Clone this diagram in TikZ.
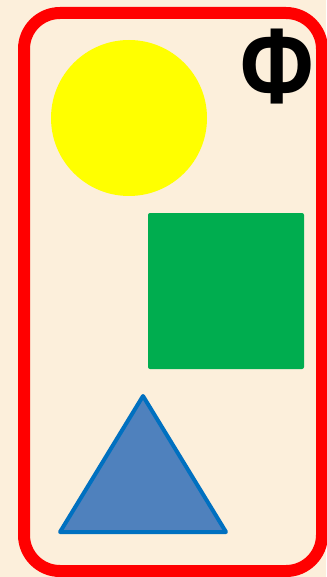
\documentclass[tikz,border=0pt]{standalone}
\usepackage{fontspec}
\setmainfont{Liberation Sans}
\usepackage{xcolor}
\usepackage{tikz}
\usetikzlibrary{positioning}

\definecolor{paper}{HTML}{FCEFDB}
\definecolor{frame}{HTML}{FF0000}
\definecolor{sunny}{HTML}{FFFF00}
\definecolor{leaf}{HTML}{00AD4F}
\definecolor{seafill}{HTML}{4F81BD}
\definecolor{seaedge}{HTML}{0070C0}

\begin{document}
\begin{tikzpicture}[
    x=1pt, y=-1pt,
    border/.style   ={draw=frame, line width=12pt, rounded corners=36pt},
    disc/.style     ={circle, fill=sunny, minimum size=156pt, inner sep=0pt},
    block/.style    ={rectangle, fill=leaf, minimum size=156pt, inner sep=0pt, rounded corners=2pt},
    tri/.style      ={fill=seafill, draw=seaedge, line width=4pt, line join=round},
    letter/.style   ={font=\fontsize{96}{96}\selectfont\bfseries, inner sep=0pt, xscale=0.93, yscale=1.12}
  ]
    % background and frame
    \fill[paper] (0,0) rectangle (326,577);
    \useasboundingbox (0,0) rectangle (326,577);
    \draw[border] (24,13) rectangle (322,571);

    % shapes
    \node[disc]  (circ) at (129,118) {};
    \node[block] (sq)   at (226,291) {};
    \coordinate (apex)  at (143,396);
    \coordinate (bl)    at (60,532);
    \coordinate (br)    at (226,532);
    \draw[tri] (apex) -- (br) -- (bl) -- cycle;

    % letter
    \node[letter] (phi) at (277,67) {Φ};
\end{tikzpicture}
\end{document}
